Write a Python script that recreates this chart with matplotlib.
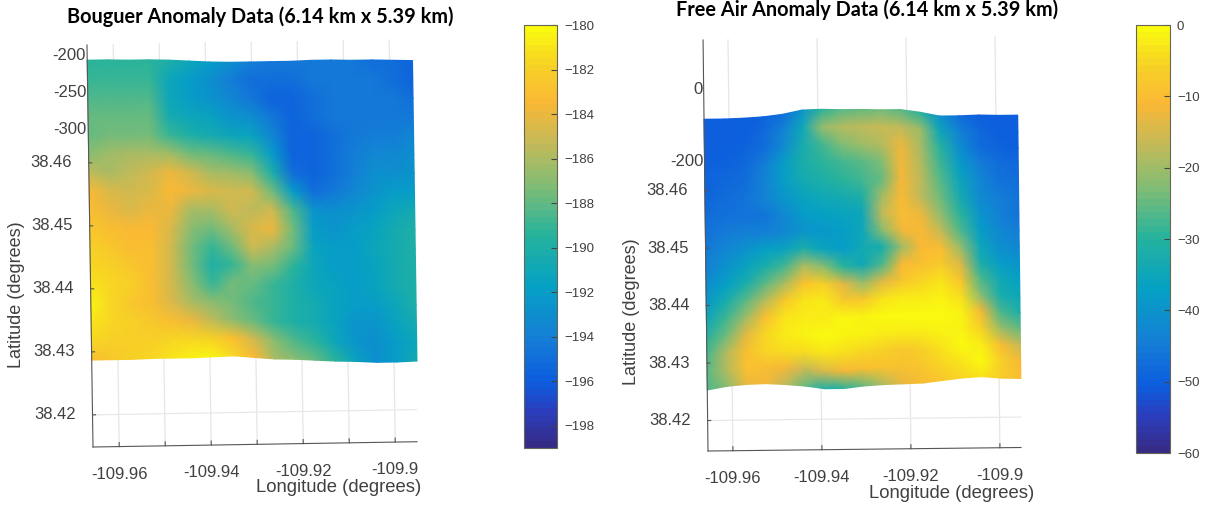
import numpy as np
import matplotlib
matplotlib.use("Agg")
import matplotlib.pyplot as plt
from matplotlib.colors import LinearSegmentedColormap
from matplotlib.transforms import Affine2D

W, H = 1207, 505
GREY = "#404040"
plt.rcParams["font.family"] = ["Liberation Sans", "DejaVu Sans"]

# Column longitudes of the surface
lons_a = [-109.9657, -109.9613, -109.9569, -109.9524, -109.9480, -109.9436,
          -109.9392, -109.9348, -109.9304, -109.9259, -109.9215, -109.9171,
          -109.9127, -109.9083, -109.9038, -109.8994, -109.8950]
lons_b = [-109.9656, -109.9612, -109.9568, -109.9524, -109.9480, -109.9436,
          -109.9392, -109.9348, -109.9304, -109.9259, -109.9215, -109.9171,
          -109.9127, -109.9083, -109.9039, -109.8995, -109.8951]

# Wavy top and bottom edges of each surface
top_a = [38.4763, 38.4763, 38.4762, 38.4762, 38.4761, 38.4759, 38.4757, 38.4756, 38.4756,
         38.4756, 38.4756, 38.4757, 38.4757, 38.4756, 38.4756, 38.4755, 38.4754]
bot_a = [38.4287, 38.4287, 38.4287, 38.4288, 38.4288, 38.4288, 38.4289, 38.4290, 38.4287,
         38.4284, 38.4283, 38.4281, 38.4279, 38.4278, 38.4276, 38.4276, 38.4277]
top_b = [38.4724, 38.4724, 38.4725, 38.4727, 38.4731, 38.4738, 38.4739, 38.4738, 38.4738,
         38.4737, 38.4737, 38.4732, 38.4725, 38.4725, 38.4726, 38.4725, 38.4725]
bot_b = [38.4253, 38.4259, 38.4262, 38.4263, 38.4261, 38.4258, 38.4253, 38.4253, 38.4257,
         38.4259, 38.4260, 38.4261, 38.4265, 38.4269, 38.4271, 38.4268, 38.4267]

# Anomaly values, rows from top edge to bottom edge
bouguer = [
    [-189.5, -189.5, -189.5, -189.5, -190, -191, -192, -193, -194, -194.5, -194.5, -194.5, -194.5, -194.5, -195, -195, -195.5],
    [-189, -189, -189, -189, -191, -192, -193, -194, -195, -195, -195, -194.5, -194.5, -194.5, -194.5, -195, -195.5],
    [-188.5, -188.5, -188.5, -188.5, -191, -192, -192.5, -193.5, -194.5, -195.5, -195.5, -195, -194.5, -194.5, -194.5, -194.5, -195],
    [-188, -188, -188, -188, -190.5, -191, -191.5, -192.5, -193, -194.5, -195.5, -195, -194.5, -194.5, -194.5, -194.5, -194.5],
    [-188, -187.5, -187.5, -187.5, -189, -190, -190.5, -191, -191.5, -193.5, -195.5, -195.5, -195, -194.5, -194, -194, -193.5],
    [-187, -186.5, -186, -186, -186.5, -187.5, -188, -188.5, -189, -192, -195.5, -195.5, -195, -194, -193.5, -193.5, -193],
    [-185.5, -186, -185.5, -185, -184, -185, -186, -186.5, -187, -190, -195, -195.5, -195, -194, -193, -193, -192.5],
    [-183.5, -184.5, -185, -184.5, -183.5, -184, -184.5, -185, -185, -187.5, -192, -195, -194.5, -193.5, -192.5, -192, -192],
    [-183, -184, -184.5, -184, -184, -186, -186, -185, -185.5, -185, -188.5, -192.5, -193, -192.5, -192, -191, -190.5],
    [-182.5, -183, -183.5, -183.5, -184.5, -187, -187.5, -186, -184.5, -184, -187.5, -192, -192.5, -192, -191.5, -190.5, -190],
    [-182, -182.5, -183, -183, -185, -187.5, -189, -187.5, -185, -186, -188, -191.5, -192, -192, -191, -190.5, -190],
    [-181.5, -182, -182.5, -183, -185, -187.5, -190, -189, -187, -187.5, -189.5, -191, -192, -192, -191.5, -190.5, -190],
    [-181, -181.5, -182, -183, -185, -187, -189, -187.5, -188, -189, -190, -191, -191.5, -192, -191.5, -190.5, -190],
    [-180.5, -181.5, -182.5, -183, -184.5, -186, -187, -187.5, -188.5, -189, -190, -190.5, -191.5, -192, -192, -191, -190],
    [-181, -181.5, -182, -182.5, -183, -184, -185.5, -187, -188, -189, -190, -190.5, -191.5, -192.5, -192.5, -191.5, -190.5],
    [-181.5, -182, -182, -182, -181.5, -181.5, -182, -183, -185, -187, -188.5, -189.5, -191, -192.5, -193, -192, -191],
    [-183, -182.5, -182, -181.5, -181, -180.5, -180.5, -181.5, -183.5, -186, -187, -188, -189.5, -191.5, -193, -192, -190.5],
]
free_air = [
    [-50, -50, -50, -49, -47, -40, -30, -26, -25, -24, -26, -30, -40, -47, -50, -50, -50],
    [-50, -50, -50, -48, -44, -35, -21, -18, -17, -16, -17, -20, -34, -44, -48, -50, -50],
    [-50, -50, -49, -47, -42, -33, -28, -23, -20, -18, -13, -19, -30, -41, -47, -49, -50],
    [-49, -49, -48, -45, -38, -32, -30, -28, -26, -23, -12, -18, -28, -38, -45, -47, -48],
    [-49, -48, -47, -44, -38, -33, -31, -30, -28, -25, -12, -17, -26, -35, -43, -46, -47],
    [-48, -47, -46, -44, -40, -36, -34, -33, -31, -20, -11, -17, -24, -33, -42, -45, -46],
    [-47, -46, -46, -46, -43, -38, -37, -36, -35, -17, -10, -13, -21, -30, -40, -44, -46],
    [-46, -45, -44, -44, -43, -40, -39, -38, -35, -22, -12, -11, -16, -27, -38, -43, -45],
    [-45, -43, -40, -37, -36, -32, -36, -38, -34, -32, -20, -11, -10, -21, -35, -41, -43],
    [-44, -40, -36, -32, -28, -19, -22, -30, -34, -27, -11, -9, -7, -15, -32, -38, -40],
    [-41, -37, -32, -26, -19, -9, -6, -14, -21, -14, -8, -5, -3, -9, -27, -34, -37],
    [-38, -32, -26, -18, -8, -3, -2, -7, -8, -3, -2, -2, -1, -4, -22, -32, -35],
    [-34, -28, -20, -10, -3, -2, -2, 0, -1, 0, 0, 0, 0, -1, -12, -27, -31],
    [-30, -24, -14, -5, -2, -1, 0, -1, -1, -2, -2, -2, -1, -1, -6, -20, -25],
    [-27, -18, -10, -5, -4, -4, -3, -4, -5, -6, -8, -6, -3, 0, -2, -10, -16],
    [-26, -18, -9, -10, -12, -16, -15, -12, -10, -9, -9, -8, -5, -3, 0, -6, -11],
    [-27, -22, -13, -12, -17, -25, -31, -30, -25, -18, -13, -10, -8, -5, -3, -7, -10],
]

lon_ticks = [-109.96, -109.94, -109.92, -109.9]
lon_labels = ["-109.96", "-109.94", "-109.92", "-109.9"]
lat_ticks = [38.42, 38.43, 38.44, 38.45, 38.46]
lat_labels = ["38.42", "38.43", "38.44", "38.45", "38.46"]
cbar_a_ticks = [-198, -196, -194, -192, -190, -188, -186, -184, -182, -180]
cbar_b_ticks = [-60, -50, -40, -30, -20, -10, 0]
grid_a = [-109.96, -109.95, -109.94, -109.93, -109.92, -109.91, -109.9]
grid_b = [-109.96, -109.94, -109.92, -109.9]

parula = LinearSegmentedColormap.from_list("parula", [
    (0.00, (0.21, 0.17, 0.53)), (0.08, (0.17, 0.24, 0.74)), (0.15, (0.05, 0.36, 0.87)),
    (0.26, (0.08, 0.50, 0.84)), (0.38, (0.02, 0.63, 0.77)), (0.50, (0.14, 0.70, 0.62)),
    (0.62, (0.50, 0.74, 0.46)), (0.72, (0.76, 0.73, 0.35)), (0.82, (0.98, 0.72, 0.21)),
    (0.91, (0.97, 0.82, 0.15)), (1.00, (0.98, 0.98, 0.06))], N=64)

fig = plt.figure(figsize=(W / 100, H / 100), dpi=100)


def px_axes(left, top, right, bottom):
    return fig.add_axes([left / W, 1 - bottom / H, (right - left) / W, (bottom - top) / H])


def draw_map(values, lons, top, bot, vmin, vmax, box, lon_min, lat_min, lon_scale, lat_scale,
             shear_x, shear_y, grid_lons, z_ticks, lab_pos):
    left, axis_top, right, bottom = box
    ax = px_axes(left, axis_top, right, bottom)
    ax.set_xlim(lon_min, lon_min + (right - left) / lon_scale)
    ax.set_ylim(lat_min, lat_min + (bottom - axis_top) / lat_scale)
    ax.axis("off")

    # the original is a 3D view turned a little, so everything is sheared
    tr = (Affine2D().translate(-lon_min, -lat_min)
          + Affine2D.from_values(1, shear_y, shear_x, 1, 0, 0)
          + Affine2D().translate(lon_min, lat_min) + ax.transData)
    lat_top = lat_min + (bottom - axis_top) / lat_scale
    lon_end = lon_min + (right - left) / lon_scale

    for lon in grid_lons:
        ax.plot([lon, lon], [lat_min, lat_top], color="#e6e6e6", lw=0.9, transform=tr,
                clip_on=False, zorder=1)
        ax.plot([lon, lon], [lat_min, lat_min + 4 / lat_scale], color="#555555", lw=0.8,
                transform=tr, clip_on=False, zorder=4)
    for lat in lat_ticks:
        ax.plot([lon_min, lon_end], [lat, lat], color="#e8e8e8", lw=0.9, transform=tr,
                clip_on=False, zorder=1)
        ax.plot([lon_min, lon_min + 3 / lon_scale], [lat, lat], color="#555555", lw=0.8,
                transform=tr, clip_on=False, zorder=4)

    t = np.linspace(0, 1, len(values))[:, None]
    lat_mesh = np.array(top) + (np.array(bot) - np.array(top)) * t
    lon_mesh = np.tile(np.array(lons), (len(values), 1))
    mesh = ax.pcolormesh(lon_mesh, lat_mesh, np.array(values, dtype=float), shading="gouraud",
                         cmap=parula, vmin=vmin, vmax=vmax, transform=tr, clip_on=False, zorder=2)

    ax.plot([lon_min, lon_min], [lat_min, lat_top], color="#555555", lw=0.8, transform=tr,
            clip_on=False, zorder=4)
    ax.plot([lon_min, lon_end], [lat_min, lat_min], color="#555555", lw=0.8, transform=tr,
            clip_on=False, zorder=4)

    for lon, lab in zip(lon_ticks, lon_labels):
        ax.annotate(lab, xy=(lon, lat_min), xycoords=tr, xytext=(0, -20),
                    textcoords="offset points", ha="center", va="center", fontsize=12, color=GREY)
    for lat, lab in zip(lat_ticks, lat_labels):
        ax.annotate(lab, xy=(lon_min, lat), xycoords=tr, xytext=(-12, 0),
                    textcoords="offset points", ha="right", va="center", fontsize=12, color=GREY)
    for lat, lab in z_ticks:
        ax.annotate(lab, xy=(lon_min, lat), xycoords=tr, xytext=(-1, 0),
                    textcoords="offset points", ha="right", va="center", fontsize=12, color=GREY)

    fig.text(lab_pos[0] / W, 1 - lab_pos[1] / H, "Longitude (degrees)", ha="right", va="center",
             fontsize=13.3, color=GREY)
    fig.text(lab_pos[2] / W, 1 - lab_pos[3] / H, "Latitude (degrees)", ha="center", va="center",
             rotation=90, fontsize=13, color=GREY)
    return mesh


mesh_a = draw_map(bouguer, lons_a, top_a, bot_a, -199, -180, (93, 45, 417, 447),
                  -109.9657, 38.4149, 4600, 6300, -0.0205, 0.0119, grid_a,
                  [(38.4771, "-200"), (38.4712, "-250"), (38.4653, "-300")],
                  (421, 488, 17, 295))
mesh_b = draw_map(free_air, lons_b, top_b, bot_b, -60, 0, (708, 40, 1021, 451),
                  -109.9656, 38.4147, 4450, 5750, -0.0155, 0.00867, grid_b,
                  [(38.4776, "0"), (38.4651, "-200")],
                  (1034, 493, 632, 312))

cax_a = px_axes(524, 25, 557, 448)
cb_a = fig.colorbar(mesh_a, cax=cax_a, ticks=cbar_a_ticks)
cax_b = px_axes(1136, 25, 1170, 453)
cb_b = fig.colorbar(mesh_b, cax=cax_b, ticks=cbar_b_ticks)
for cb in (cb_a, cb_b):
    cb.ax.tick_params(direction="in", length=4, width=0.8, labelsize=9.5, labelcolor=GREY,
                      color="#444444", pad=5)
    cb.outline.set_edgecolor("#666655")
    cb.outline.set_linewidth(0.8)

fig.text(260 / W, 1 - 17 / H, "Bouguer Anomaly Data (6.14 km x 5.39 km)", ha="center", va="center",
         fontsize=14.3, fontweight="bold", family=["Lato", "DejaVu Sans"], color="black")
fig.text(867 / W, 1 - 10 / H, "Free Air Anomaly Data (6.14 km x 5.39 km)", ha="center", va="center",
         fontsize=14.3, fontweight="bold", family=["Lato", "DejaVu Sans"], color="black")

fig.savefig("out.png", dpi=100)
